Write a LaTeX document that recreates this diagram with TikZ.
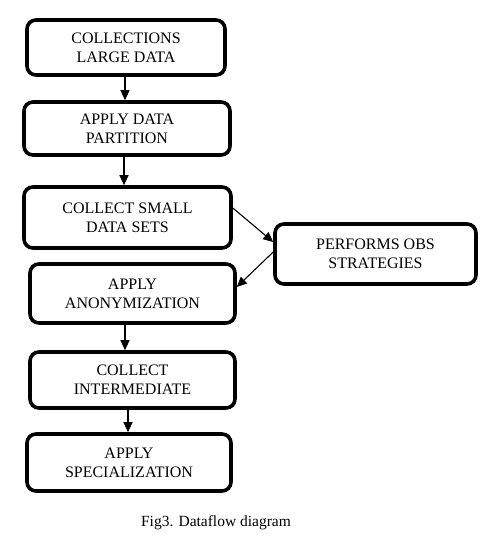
\documentclass[tikz,border=0pt]{standalone}
\usepackage{fontspec}
\setmainfont{Liberation Serif}
\usetikzlibrary{arrows.meta}

\tikzset{
  flowbox/.style={draw=black, line width=3.6pt, rounded corners=9pt,
    align=center, inner sep=0pt, font=\fontsize{16}{19}\selectfont},
  flowarrow/.style={-{Triangle[length=10pt,width=9pt]}, line width=1.1pt}
}

\begin{document}
\begin{tikzpicture}[x=1pt,y=1pt]
\useasboundingbox (0,0) rectangle (481,534);

% Main column of steps
\node[flowbox, minimum width=198pt, minimum height=55pt] (large) at (126,486.5)
    {COLLECTIONS\\LARGE DATA};
\node[flowbox, minimum width=206pt, minimum height=53pt] (part) at (127,405.5)
    {APPLY DATA\\PARTITION};
\node[flowbox, minimum width=207pt, minimum height=61pt] (small) at (127.5,316.5)
    {COLLECT SMALL\\DATA SETS};
\node[flowbox, minimum width=205pt, minimum height=59pt] (anon) at (132.5,240.5)
    {APPLY\\ANONYMIZATION};
\node[flowbox, minimum width=205pt, minimum height=56pt] (inter) at (132.5,154)
    {COLLECT\\INTERMEDIATE};
\node[flowbox, minimum width=204pt, minimum height=57pt] (spec) at (129,71.5)
    {APPLY\\SPECIALIZATION};

% Side step
\node[flowbox, minimum width=201pt, minimum height=60pt] (obs) at (375.5,280)
    {PERFORMS OBS\\STRATEGIES};

% Caption
\node[anchor=base, font=\fontsize{15.5}{18}\selectfont] (caption) at (216,7)
    {Fig3. Dataflow diagram};

% Connectors
\draw[flowarrow] ([xshift=-1pt]large.south) -- ([xshift=-1pt]large.south |- part.north);
\draw[flowarrow] ([xshift=-3pt]part.south) -- ([xshift=-3pt]part.south |- small.north);
\draw[flowarrow] ([yshift=9.5pt]small.east) -- ([yshift=12pt]obs.west);
\draw[flowarrow] ([yshift=2pt]obs.west) -- ([yshift=6.5pt]anon.east);
\draw[flowarrow] ([xshift=-7.5pt]anon.south) -- ([xshift=-7.5pt]anon.south |- inter.north);
\draw[flowarrow] ([xshift=-4.5pt]inter.south) -- ([xshift=-4.5pt]inter.south |- spec.north);
\end{tikzpicture}
\end{document}
